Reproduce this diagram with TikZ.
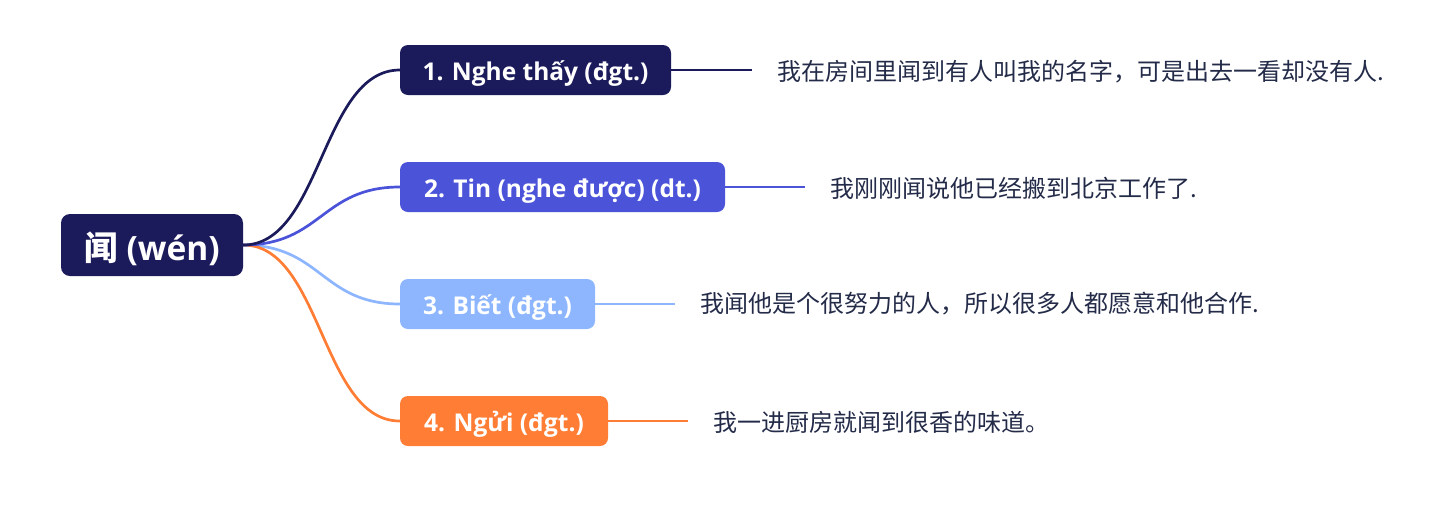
\documentclass[tikz,border=0pt]{standalone}
\usepackage{fontspec}
\setmainfont{Open Sans}
\newfontfamily\cjk{Noto Sans CJK SC}
\definecolor{cA}{HTML}{1B1A5B}
\definecolor{cB}{HTML}{4B53D9}
\definecolor{cC}{HTML}{8DB6FF}
\definecolor{cD}{HTML}{FF7D34}
\definecolor{txt}{HTML}{232B48}
\tikzset{
  rootbox/.style={rounded corners=9pt, fill=cA, text=white, minimum width=182pt, minimum height=62pt, inner sep=0pt, text height=34pt, text depth=4pt, font=\bfseries\fontsize{33.5}{40}\selectfont},
  branchbox/.style={rounded corners=8pt, fill=#1, text=white, minimum height=50pt, inner sep=0pt, text height=24pt, text depth=3pt, font=\bfseries\fontsize{24.5}{29}\selectfont},
  sentence/.style={anchor=west, inner sep=0pt, text=txt, font=\cjk\fontsize{24}{28}\selectfont},
  link/.style={line width=2.7pt, draw=#1},
  lead/.style={line width=2.7pt, draw=#1, shorten >=25pt}
}
\begin{document}
\begin{tikzpicture}[x=1pt,y=-1pt]
\useasboundingbox (0,0) rectangle (1451,507);
\node[rootbox] (root) at (152,245) {{\cjk 闻} (wén)};
\node[branchbox=cA, minimum width=271pt] (n1) at (535.5,70) {1. Nghe thấy (đgt.)};
\node[branchbox=cB, minimum width=325pt] (n2) at (562.5,187) {2. Tin (nghe được) (dt.)};
\node[branchbox=cC, minimum width=195pt] (n3) at (497.5,304) {3. Biết (đgt.)};
\node[branchbox=cD, minimum width=208pt] (n4) at (504,421) {4. Ngửi (đgt.)};
\node[sentence] (t1) at (777,72) {我在房间里闻到有人叫我的名字，可是出去一看却没有人.};
\node[sentence] (t2) at (830,188) {我刚刚闻说他已经搬到北京工作了.};
\node[sentence] (t3) at (700,304) {我闻他是个很努力的人，所以很多人都愿意和他合作.};
\node[sentence] (t4) at (713,422) {我一进厨房就闻到很香的味道。};
\draw[link=cC] (root.east) .. controls (321.5,245) and (321.5,304) .. (n3.west);
\draw[link=cD] (root.east) .. controls (321.5,245) and (321.5,421) .. (n4.west);
\draw[link=cB] (root.east) .. controls (321.5,245) and (321.5,187) .. (n2.west);
\draw[link=cA] (root.east) .. controls (321.5,245) and (321.5,70) .. (n1.west);
\draw[lead=cA] (n1.east) -- (n1.east -| t1.west);
\draw[lead=cB] (n2.east) -- (n2.east -| t2.west);
\draw[lead=cC] (n3.east) -- (n3.east -| t3.west);
\draw[lead=cD] (n4.east) -- (n4.east -| t4.west);
\end{tikzpicture}
\end{document}
